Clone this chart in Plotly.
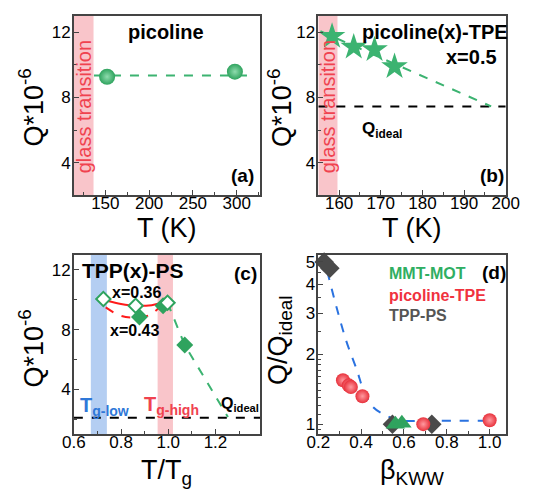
import plotly.graph_objects as go
import numpy as np

# ---------------- data ----------------
# Panel (a) picoline
a_T = [152, 298]
a_Q = [9.27, 9.58]
a_fit_T = [137, 322]
a_fit_Q = [9.35, 9.35]
a_glass = [114, 136.5]

# Panel (b) picoline(x)-TPE, x=0.5
b_T = [158.3, 163.5, 168.5, 173.3]
b_Q = [11.75, 11.09, 10.93, 9.89]
b_fit_T = [155.5, 196.5]
b_fit_Q = [12.06, 7.45]
b_ideal = 7.45
b_glass = [155, 159.6]

# Panel (c) TPP(x)-PS
c_open_x = [0.725, 0.862, 0.997]
c_open_q = [10.05, 9.6, 9.8]
c_fill_x = [0.878, 0.978, 1.07]
c_fill_q = [8.85, 9.6, 6.97]
c_solid_x = [0.74, 0.80, 0.86, 0.93, 0.97]
c_solid_q = [9.93, 9.72, 9.6, 9.64, 9.78]
c_dash_x = [0.735, 0.795, 0.849, 0.916, 0.963]
c_dash_q = [9.49, 8.95, 8.8, 8.95, 9.49]
c_green_x = [0.997, 1.07, 1.253]
c_green_q = [9.8, 6.97, 2.15]
c_ideal = 2.1
c_low = [0.672, 0.74]
c_high = [0.955, 1.02]

# Panel (d) Q/Qideal vs beta_KWW
d_tpp_b = [0.227, 0.254, 0.546, 0.73]
d_tpp_q = [5.0, 4.7, 1.0, 1.0]
d_mmt_b = [0.56, 0.59]
d_mmt_q = [1.0, 1.01]
d_pic_b = [0.315, 0.342, 0.352, 0.406, 0.69, 1.0]
d_pic_q = [1.545, 1.47, 1.445, 1.32, 1.0, 1.04]
d_fit_b = [0.223, 0.249, 0.285, 0.330, 0.381, 0.411, 0.455, 0.514, 0.573, 0.70, 0.85, 0.98]
d_fit_q = [5.42, 4.29, 3.19, 2.29, 1.70, 1.40, 1.186, 1.093, 1.04, 1.035, 1.035, 1.035]

# ---------------- style ----------------
FONT = "Liberation Sans, Arial, sans-serif"
GREEN = "#2fa35e"
GREEN_L = "#3cb371"
RED = "#e8323c"
GRAY = "#4a4a4a"
PINK = "rgba(244,150,158,0.55)"
BLUE_BAND = "rgba(140,180,235,0.65)"
W, H = 534, 489


def px_x(p):
    return p / W


def px_y(p):
    return 1 - p / H


fig = go.Figure()

# panel (a)
fig.add_trace(go.Scatter(x=a_fit_T, y=a_fit_Q, mode="lines",
                         line=dict(color=GREEN_L, width=2, dash="dash"),
                         xaxis="x", yaxis="y", showlegend=False))
fig.add_trace(go.Scatter(x=a_T, y=a_Q, mode="markers",
                         marker=dict(size=16, color=GREEN, line=dict(width=0),
                                     gradient=dict(type="radial", color="#8fdcae")),
                         xaxis="x", yaxis="y", showlegend=False, cliponaxis=False))

# panel (b)
fig.add_trace(go.Scatter(x=[155, 200], y=[b_ideal, b_ideal], mode="lines",
                         line=dict(color="black", width=2, dash="dash"),
                         xaxis="x2", yaxis="y2", showlegend=False))
fig.add_trace(go.Scatter(x=b_fit_T, y=b_fit_Q, mode="lines",
                         line=dict(color=GREEN_L, width=2, dash="dash"),
                         xaxis="x2", yaxis="y2", showlegend=False))
fig.add_trace(go.Scatter(x=b_T, y=b_Q, mode="markers",
                         marker=dict(symbol="star", size=20, color=GREEN_L, line=dict(width=0)),
                         xaxis="x2", yaxis="y2", showlegend=False, cliponaxis=False))

# panel (c)
fig.add_trace(go.Scatter(x=[0.6, 1.39], y=[c_ideal, c_ideal], mode="lines",
                         line=dict(color="black", width=2, dash="dash"),
                         xaxis="x3", yaxis="y3", showlegend=False))
fig.add_trace(go.Scatter(x=c_green_x, y=c_green_q, mode="lines",
                         line=dict(color=GREEN_L, width=2, dash="dash"),
                         xaxis="x3", yaxis="y3", showlegend=False))
fig.add_trace(go.Scatter(x=c_solid_x, y=c_solid_q, mode="lines", line_shape="spline",
                         line=dict(color="#ff1a1a", width=2),
                         xaxis="x3", yaxis="y3", showlegend=False))
fig.add_trace(go.Scatter(x=c_dash_x, y=c_dash_q, mode="lines", line_shape="spline",
                         line=dict(color="#ff1a1a", width=2, dash="dash"),
                         xaxis="x3", yaxis="y3", showlegend=False))
fig.add_trace(go.Scatter(x=c_fill_x, y=c_fill_q, mode="markers",
                         marker=dict(symbol="diamond", size=13, color=GREEN, line=dict(width=0)),
                         xaxis="x3", yaxis="y3", showlegend=False))
fig.add_trace(go.Scatter(x=c_open_x, y=c_open_q, mode="markers",
                         marker=dict(symbol="diamond", size=11, color="white",
                                     line=dict(width=2, color=GREEN)),
                         xaxis="x3", yaxis="y3", showlegend=False))

# panel (d)
fig.add_trace(go.Scatter(x=d_fit_b, y=d_fit_q, mode="lines", line_shape="spline",
                         line=dict(color="#2a72e0", width=2, dash="dash"),
                         xaxis="x4", yaxis="y4", showlegend=False))
fig.add_trace(go.Scatter(x=d_tpp_b, y=d_tpp_q, mode="markers",
                         marker=dict(symbol="diamond", size=15, color=GRAY, line=dict(width=0)),
                         xaxis="x4", yaxis="y4", showlegend=False, cliponaxis=False))
fig.add_trace(go.Scatter(x=d_mmt_b, y=d_mmt_q, mode="markers",
                         marker=dict(symbol="triangle-up", size=17, color=GREEN, line=dict(width=0)),
                         xaxis="x4", yaxis="y4", showlegend=False, cliponaxis=False))
fig.add_trace(go.Scatter(x=d_pic_b, y=d_pic_q, mode="markers",
                         marker=dict(size=14, color=RED, line=dict(width=0),
                                     gradient=dict(type="radial", color="#ff9aa0")),
                         xaxis="x4", yaxis="y4", showlegend=False, cliponaxis=False))

# bands
shapes = [
    dict(type="rect", xref="x", yref="y domain", x0=a_glass[0], x1=a_glass[1], y0=0, y1=1,
         fillcolor=PINK, line=dict(width=0), layer="below"),
    dict(type="rect", xref="x2", yref="y2 domain", x0=b_glass[0], x1=b_glass[1], y0=0, y1=1,
         fillcolor=PINK, line=dict(width=0), layer="below"),
    dict(type="rect", xref="x3", yref="y3 domain", x0=c_low[0], x1=c_low[1], y0=0, y1=1,
         fillcolor=BLUE_BAND, line=dict(width=0), layer="below"),
    dict(type="rect", xref="x3", yref="y3 domain", x0=c_high[0], x1=c_high[1], y0=0, y1=1,
         fillcolor=PINK, line=dict(width=0), layer="below"),
]


def ann(text, x, y, xref, yref, size=16, color="black", bold=True, xanchor="center",
        yanchor="middle", angle=0):
    t = f"<b>{text}</b>" if bold else text
    return dict(text=t, x=x, y=y, xref=xref, yref=yref, showarrow=False,
                font=dict(family=FONT, size=size, color=color),
                xanchor=xanchor, yanchor=yanchor, textangle=angle)


annotations = [
    # panel a
    ann("picoline", 219, 12.0, "x", "y", size=20),
    ann("(a)", 306.5, 3.2, "x", "y", size=19),
    ann("glass transition", 125.5, 7.45, "x", "y", size=20, color="#f0424f", bold=False, angle=-90),
    # panel b
    ann("picoline(x)-TPE", 183, 12.0, "x2", "y2", size=20),
    ann("x=0.5", 191.7, 10.5, "x2", "y2", size=20),
    ann("(b)", 196.8, 3.2, "x2", "y2", size=19),
    ann("Q<sub>ideal</sub>", 165.0, 6.0, "x2", "y2", size=17, xanchor="left"),
    ann("glass transition", 157.3, 7.45, "x2", "y2", size=20, color="#f0424f", bold=False, angle=-90),
    # panel c
    ann("TPP(x)-PS", 0.85, 11.93, "x3", "y3", size=21),
    ann("(c)", 1.326, 11.73, "x3", "y3", size=19),
    ann("x=0.36", 0.866, 10.47, "x3", "y3", size=16),
    ann("x=0.43", 0.858, 7.93, "x3", "y3", size=16),
    ann("T<sub>g-low</sub>", 0.618, 2.85, "x3", "y3", size=20, color="#2f78d8", xanchor="left"),
    ann("T<sub>g-high</sub>", 0.888, 2.95, "x3", "y3", size=20, color="#f0424f", xanchor="left"),
    ann("Q<sub>ideal</sub>", 1.215, 3.0, "x3", "y3", size=16, xanchor="left"),
    # panel d
    ann("MMT-MOT", 0.52, np.log10(4.45), "x4", "y4", size=16, color="#2fae62", xanchor="left"),
    ann("picoline-TPE", 0.52, np.log10(3.58), "x4", "y4", size=16, color="#f0323e", xanchor="left"),
    ann("TPP-PS", 0.52, np.log10(2.94), "x4", "y4", size=16, color="#555555", xanchor="left"),
    ann("(d)", 1.022, np.log10(4.5), "x4", "y4", size=19),
    # axis titles
    ann("Q*10<sup>-6</sup>", px_x(20), px_y(106), "paper", "paper", size=27, bold=False, angle=-90),
    ann("Q*10<sup>-6</sup>", px_x(281), px_y(106), "paper", "paper", size=27, bold=False, angle=-90),
    ann("Q*10<sup>-6</sup>", px_x(20), px_y(348), "paper", "paper", size=27, bold=False, angle=-90),
    ann("Q/Q<sub>ideal</sub>", px_x(281), px_y(340), "paper", "paper", size=27, bold=False, angle=-90),
    ann("T (K)", px_x(163), px_y(227), "paper", "paper", size=27, bold=False),
    ann("T (K)", px_x(420), px_y(227), "paper", "paper", size=27, bold=False),
    ann("T/T<sub>g</sub>", px_x(162), px_y(472), "paper", "paper", size=27, bold=False),
    ann("β<sub>KWW</sub>", px_x(420), px_y(472), "paper", "paper", size=27, bold=False),
]

AX = dict(showline=True, mirror=True, linecolor="#444444", linewidth=1.5,
          showgrid=False, zeroline=False, ticks="inside", ticklen=5, tickwidth=1.2,
          tickcolor="#444444",
          tickfont=dict(family=FONT, size=17, color="black"))
AXX = dict(AX, ticklabelstandoff=-8)
AXY = dict(AX, ticklabelstandoff=-2)
MINOR = dict(ticks="inside", ticklen=3, tickwidth=1, tickcolor="#444444", showgrid=False)

xa_dom = [px_x(65), px_x(261)]
xb_dom = [px_x(322), px_x(519)]
ytop_dom = [px_y(194), px_y(14)]
ybot_dom = [px_y(434), px_y(254)]

fig.update_layout(
    width=W, height=H, margin=dict(l=0, r=0, t=0, b=0),
    paper_bgcolor="white", plot_bgcolor="white",
    font=dict(family=FONT, color="black"),
    shapes=shapes, annotations=annotations,
    xaxis=dict(AXX, domain=xa_dom, anchor="y", range=[114, 327],
               tickvals=[150, 200, 250, 300], minor=dict(MINOR, dtick=25)),
    yaxis=dict(AXY, domain=ytop_dom, anchor="x", range=[2, 13],
               tickvals=[4, 8, 12], minor=dict(MINOR, dtick=2)),
    xaxis2=dict(AXX, domain=xb_dom, anchor="y2", range=[155, 200],
                tickvals=[160, 170, 180, 190, 200], minor=dict(MINOR, dtick=5)),
    yaxis2=dict(AXY, domain=ytop_dom, anchor="x2", range=[2, 13],
                tickvals=[4, 8, 12], minor=dict(MINOR, dtick=2)),
    xaxis3=dict(AXX, domain=xa_dom, anchor="y3", range=[0.6, 1.39],
                tickvals=[0.6, 0.8, 1.0, 1.2], ticktext=["0.6", "0.8", "1.0", "1.2"],
                minor=dict(MINOR, dtick=0.1)),
    yaxis3=dict(AXY, domain=ybot_dom, anchor="x3", range=[1, 13],
                tickvals=[4, 8, 12], minor=dict(MINOR, dtick=2)),
    xaxis4=dict(AXX, domain=xb_dom, anchor="y4", range=[0.2, 1.075],
                tickvals=[0.2, 0.4, 0.6, 0.8, 1.0], ticktext=["0.2", "0.4", "0.6", "0.8", "1.0"],
                minor=dict(MINOR, dtick=0.1)),
    yaxis4=dict(AXY, domain=ybot_dom, anchor="x4", type="log",
                range=[np.log10(0.905), np.log10(5.36)],
                tickvals=[1, 2, 3, 4, 5], ticktext=["1", "2", "3", "4", "5"],
                minor=dict(MINOR, tickvals=[0.95, 1.1, 1.2, 1.3, 1.4, 1.5, 1.6, 1.7, 1.8, 1.9, 2.5, 3.5, 4.5])),
)

fig.write_html("out.html", config={"displayModeBar": False},
               post_script="document.body.style.margin='0px';document.body.style.overflow='hidden';")
